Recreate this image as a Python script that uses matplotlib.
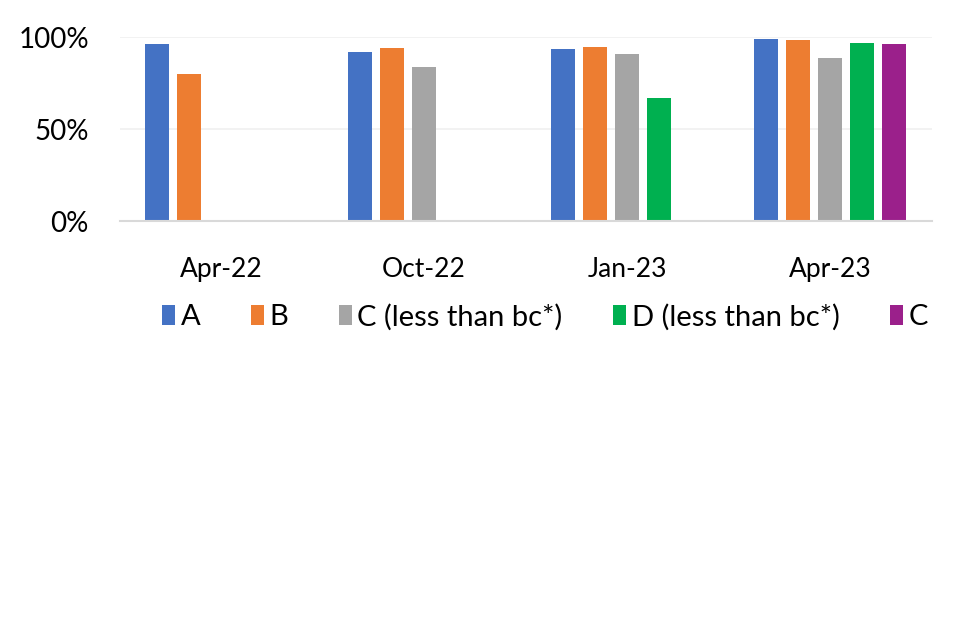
import numpy as np
import matplotlib
matplotlib.use("Agg")
import matplotlib.pyplot as plt
from matplotlib.ticker import PercentFormatter

categories = ["Apr-22", "Oct-22", "Jan-23", "Apr-23"]
series_names = ["A", "B", "C (less than bc*)", "D (less than bc*)", "C"]
series_A = [0.96, 0.92, 0.933, 0.99]
series_B = [0.80, 0.94, 0.946, 0.984]
series_C = [np.nan, 0.835, 0.908, 0.888]
series_D = [np.nan, np.nan, 0.667, 0.969]
series_E = [np.nan, np.nan, np.nan, 0.962]
yticks = [0, 0.5, 1.0]

colors = ["#4472C4", "#ED7D31", "#A5A5A5", "#00B050", "#9B208B"]
all_series = [series_A, series_B, series_C, series_D, series_E]

plt.rcParams['font.family'] = ['Lato', 'DejaVu Sans']

fig = plt.figure(figsize=(9.6, 6.4), dpi=100)
ax = fig.add_axes([119.5/960, 1-221/640, 812/960, 184/640])

x = np.arange(len(categories))
slot = 0.158
width = 0.118
n = len(all_series)
for i, (vals, c, name) in enumerate(zip(all_series, colors, series_names)):
    offs = (i - (n-1)/2) * slot
    ax.bar(x + offs, vals, width=width, color=c, label=name, zorder=3)

ax.set_xlim(-0.5, len(categories) - 0.5)
ax.set_ylim(0, 1.0)
ax.set_yticks(yticks)
ax.yaxis.set_major_formatter(PercentFormatter(1.0, decimals=0))
ax.set_xticks(x)
ax.set_xticklabels(categories)
ax.tick_params(axis='x', length=0, pad=26, labelsize=19)
ax.tick_params(axis='y', length=0, pad=22, labelsize=20)
for s in ["top", "right", "left"]:
    ax.spines[s].set_visible(False)
ax.spines["bottom"].set_color("#D9D9D9")
ax.spines["bottom"].set_linewidth(1.5)
ax.spines["bottom"].set_zorder(4)
ax.yaxis.grid(True, color="#F0F0F0", linewidth=1.2, zorder=0)
ax.set_axisbelow(True)

handles, labels = ax.get_legend_handles_labels()
leg = fig.legend(handles, labels, loc="center", bbox_to_anchor=(545/960, 1-317/640),
                 ncol=5, frameon=False, fontsize=21, handlelength=0.45, handleheight=0.7,
                 handletextpad=0.2, columnspacing=1.72, borderaxespad=0)

fig.savefig("out.png", dpi=100)
